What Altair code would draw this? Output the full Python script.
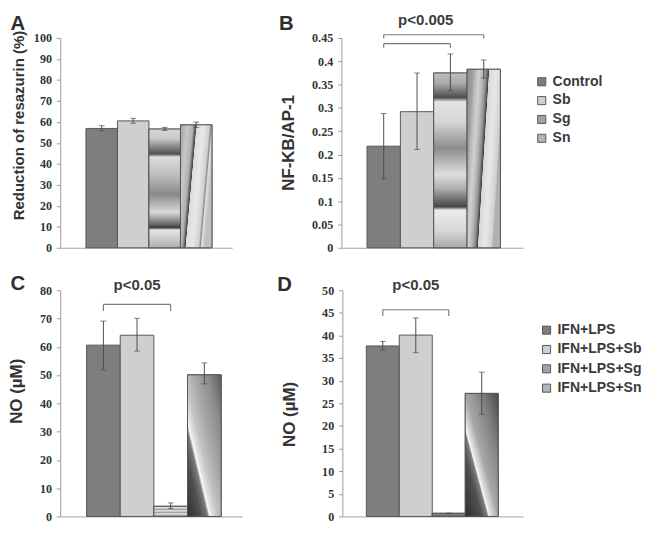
import altair as alt
import pandas as pd

# ---------------- data ----------------
top_groups = ["Control", "Sb", "Sg", "Sn"]
bottom_groups = ["IFN+LPS", "IFN+LPS+Sb", "IFN+LPS+Sg", "IFN+LPS+Sn"]

# A: reduction of resazurin (%)
a_mean = [56.9, 60.5, 56.6, 58.6]
a_lo = [55.8, 59.4, 55.9, 57.3]
a_hi = [58.2, 61.7, 57.4, 59.9]
a_ticks = [0, 10, 20, 30, 40, 50, 60, 70, 80, 90, 100]

# B: NF-KB/AP-1
b_mean = [0.218, 0.292, 0.375, 0.383]
b_lo = [0.148, 0.211, 0.337, 0.364]
b_hi = [0.288, 0.375, 0.416, 0.403]
b_ticks = [0, 0.05, 0.1, 0.15, 0.2, 0.25, 0.3, 0.35, 0.4, 0.45]

# C: NO (uM)
c_mean = [60.6, 64.1, 3.6, 50.1]
c_lo = [51.8, 58.5, 2.8, 46.9]
c_hi = [69.1, 70.1, 4.8, 54.3]
c_ticks = [0, 10, 20, 30, 40, 50, 60, 70, 80]

# D: NO (uM)
d_mean = [37.7, 40.1, 0.7, 27.2]
d_lo = [36.8, 36.2, 0.7, 22.6]
d_hi = [38.7, 43.9, 0.7, 31.9]
d_ticks = [0, 5, 10, 15, 20, 25, 30, 35, 40, 45, 50]

# significance brackets: (from, to, top level, foot level)
b_brackets = [("Control", "Sn", 0.457, 0.449), ("Control", "Sg", 0.438, 0.429)]
c_brackets = [("IFN+LPS", "IFN+LPS+Sg", 75.0, 72.7)]
d_brackets = [("IFN+LPS", "IFN+LPS+Sg", 45.7, 44.3)]

# p-value labels: (text, group, level)
b_plabel = ("p<0.005", "Sb", 0.478)
c_plabel = ("p<0.05", "IFN+LPS+Sb", 80.2)
d_plabel = ("p<0.05", "IFN+LPS+Sb", 50.1)

solid_colors = ["#7e7e7e", "#cfcfcf", "#a2a2a2", "#b4b4b4"]


# ---------------- styles ----------------
def grad(stops, x1=0, y1=0, x2=0, y2=1):
    return {"gradient": "linear", "x1": x1, "y1": y1, "x2": x2, "y2": y2,
            "stops": [{"offset": o, "color": c} for o, c in stops]}


sg_a = grad([(0, "#d8d8d8"), (0.08, "#c8c8c8"), (0.21, "#505050"), (0.235, "#dcdcdc"),
             (0.38, "#c0c0c0"), (0.55, "#8a8a8a"), (0.7, "#dadada"), (0.8, "#6a6a6a"),
             (0.83, "#3e3e3e"), (0.85, "#e6e6e6"), (1, "#b0b0b0")])
sg_b = grad([(0, "#c0c0c0"), (0.06, "#aaaaaa"), (0.14, "#4e4e4e"), (0.165, "#e4e4e4"),
             (0.28, "#d6d6d6"), (0.43, "#8c8c8c"), (0.58, "#dedede"), (0.66, "#b0b0b0"),
             (0.765, "#454545"), (0.785, "#ececec"), (0.9, "#d8d8d8"), (1, "#a8a8a8")])
sg_c = grad([(0, "#9a9a9a"), (0.15, "#ececec"), (0.3, "#9a9a9a"), (0.45, "#ececec"),
             (0.6, "#9a9a9a"), (0.75, "#ececec"), (0.9, "#9a9a9a"), (1, "#d0d0d0")])
sg_d = grad([(0, "#8a8a8a"), (1, "#6a6a6a")])

sn_a = grad([(0, "#a0a0a0"), (0.2, "#c8c8c8"), (0.35, "#b0b0b0"), (0.42, "#606060"),
             (0.445, "#404040"), (0.46, "#dcdcdc"), (0.65, "#e8e8e8"), (0.82, "#cfcfcf"),
             (0.87, "#8a8a8a"), (0.9, "#e0e0e0"), (1, "#c0c0c0")], 0, 0, 1, 0.35)
sn_b = grad([(0, "#909090"), (0.15, "#9c9c9c"), (0.24, "#bcbcbc"), (0.33, "#d0d0d0"),
             (0.42, "#b8b8b8"), (0.51, "#909090"), (0.565, "#5a5a5a"), (0.585, "#3e3e3e"),
             (0.6, "#d8d8d8"), (0.78, "#e8e8e8"), (0.96, "#d0d0d0"), (1, "#b0b0b0")], 0, 0, 1, 0.34)
sn_c = grad([(0, "#303030"), (0.2, "#505050"), (0.3, "#7a7a7a"), (0.322, "#c8c8c8"),
             (0.333, "#fafafa"), (0.36, "#e6e6e6"), (0.45, "#c4c4c4"), (0.6, "#a8a8a8"),
             (0.8, "#8c8c8c"), (1, "#5a5a5a")], 0, 1, 1, 0)
sn_d = grad([(0, "#2e2e2e"), (0.25, "#505050"), (0.34, "#808080"), (0.352, "#c8c8c8"),
             (0.362, "#f5f5f5"), (0.4, "#dcdcdc"), (0.5, "#a8a8a8"), (0.75, "#808080"),
             (1, "#4a4a4a")], 0, 1, 1, 0)

TXT = "#333333"
SANS = "Liberation Sans"
SERIF = "Liberation Serif"


def panel(cats, mean, lo, hi, ticks, fmt, ytitle, tx, ty, tsize,
          letter, lx, ly, w, h, po, al, sg_fill, sn_fill,
          legend=None, brackets=None, plabel=None, pband=0.5):
    df = pd.DataFrame({"cat": cats, "mean": mean, "lo": lo, "hi": hi})
    xs = alt.Scale(domain=cats, paddingInner=0, paddingOuter=po, align=al)
    x_bottom = alt.Axis(labels=False, ticks=False, title=None, domainColor="#a0a0a0",
                        grid=False)
    # panel letter drawn as the title of a bare top axis
    x_top = alt.Axis(orient="top", labels=False, ticks=False, domain=False, grid=False,
                     title=letter, titleX=lx, titleY=ly, titleAlign="left",
                     titleBaseline="alphabetic", titleAngle=0, titleFont=SANS,
                     titleFontSize=21, titleFontWeight="bold", titleColor="#2e2e2e")
    ys = alt.Scale(domain=[ticks[0], ticks[-1]], nice=False, zero=True)
    yax = alt.Axis(values=ticks, format=fmt, title=ytitle, titleX=tx, titleY=ty,
                   titleFontSize=tsize, titleAngle=-90, titleBaseline="alphabetic",
                   titleAlign="center")
    X = alt.X("cat:N", scale=xs, axis=x_bottom, sort=cats)
    Xn = alt.X("cat:N", scale=xs, axis=None, sort=cats)
    Xt = alt.X("cat:N", scale=xs, axis=x_top, sort=cats)
    Y = alt.Y("mean:Q", scale=ys, axis=yax)
    base = alt.Chart(df)
    bars = base.mark_bar(stroke="#555555", strokeWidth=1).encode(
        x=X, y=Y,
        color=alt.Color("cat:N", scale=alt.Scale(domain=cats, range=solid_colors),
                        legend=legend))
    sg = base.transform_filter(alt.datum.cat == cats[2]).mark_bar(
        fill=sg_fill, stroke="#555555", strokeWidth=1).encode(x=Xn, y=Y)
    sn = base.transform_filter(alt.datum.cat == cats[3]).mark_bar(
        fill=sn_fill, stroke="#555555", strokeWidth=1).encode(x=Xn, y=Y)
    err = base.mark_rule(color="#4a4a4a", strokeWidth=1).encode(
        x=Xt, y=alt.Y("lo:Q", scale=ys, axis=yax), y2="hi:Q")
    cap_lo = base.mark_tick(color="#4a4a4a", size=6, thickness=1).encode(
        x=Xn, y=alt.Y("lo:Q", scale=ys, axis=yax))
    cap_hi = base.mark_tick(color="#4a4a4a", size=6, thickness=1).encode(
        x=Xn, y=alt.Y("hi:Q", scale=ys, axis=yax))
    layers = [bars, sg, sn, err, cap_lo, cap_hi]
    if brackets:
        rows = []
        for c1, c2, top, foot in brackets:
            rows.append({"c1": c1, "c2": c2, "y1": top, "y2": top})
            rows.append({"c1": c1, "c2": c1, "y1": foot, "y2": top})
            rows.append({"c1": c2, "c2": c2, "y1": foot, "y2": top})
        bdf = pd.DataFrame(rows)
        layers.append(alt.Chart(bdf).mark_rule(color="#7a7a7a", strokeWidth=1.2).encode(
            x=alt.X("c1:N", scale=xs, axis=None, sort=cats), x2="c2:N",
            y=alt.Y("y1:Q", scale=ys, axis=yax), y2="y2:Q"))
    if plabel:
        tdf = pd.DataFrame({"label": [plabel[0]], "c": [plabel[1]], "y": [plabel[2]]})
        layers.append(alt.Chart(tdf).mark_text(
            font=SANS, fontSize=15.5, fontWeight="bold", color="#3c3c3c",
            baseline="alphabetic", align="center").encode(
            x=alt.X("c:N", scale=xs, axis=None, sort=cats, bandPosition=pband),
            y=alt.Y("y:Q", scale=ys, axis=yax), text="label:N"))
    return alt.layer(*layers).resolve_axis(x="independent").properties(width=w, height=h)


def make_legend(lx, ly, size, rowpad):
    return alt.Legend(orient="none", legendX=lx, legendY=ly, title=None,
                      symbolType="square", symbolSize=70, symbolStrokeColor="#555555",
                      symbolStrokeWidth=1, symbolOpacity=1,
                      labelFont=SANS, labelFontSize=size, labelFontWeight="bold",
                      labelColor="#3a3a3a", labelOffset=4, rowPadding=rowpad)


A = panel(top_groups, a_mean, a_lo, a_hi, a_ticks, "d", "Reduction of resazurin (%)",
          -38, 90, 15.5, "A", -52, -9, 178, 217, 0.73, 0.56, sg_a, sn_a)
B = panel(top_groups, b_mean, b_lo, b_hi, b_ticks, "~g", "NF-KB/AP-1",
          -50, 108, 17.5, "B", -65, -9, 188, 217, 0.724, 0.53, sg_b, sn_b,
          legend=make_legend(200, 38, 14.5, 4.5), brackets=b_brackets,
          plabel=b_plabel, pband=0.76)
C = panel(bottom_groups, c_mean, c_lo, c_hi, c_ticks, "d", "NO (µM)",
          -40, 104, 17.5, "C", -52, -0.5, 188, 234, 0.70, 0.56, sg_c, sn_c,
          brackets=c_brackets, plabel=c_plabel)
D = panel(bottom_groups, d_mean, d_lo, d_hi, d_ticks, "d", "NO (µM)",
          -50, 128, 17.5, "D", -68, 0.5, 187, 234, 0.74, 0.49, sg_d, sn_d,
          legend=make_legend(204, 34, 14.5, 5), brackets=d_brackets, plabel=d_plabel)

top = alt.hconcat(A, B, spacing=48).resolve_scale(
    color="independent").resolve_legend(color="independent")
bottom = alt.hconcat(C, D, spacing=36).resolve_scale(
    color="independent").resolve_legend(color="independent")

chart = alt.vconcat(top, bottom, spacing=19).resolve_scale(
    color="independent").resolve_legend(color="independent").properties(
    padding={"top": -4, "left": 0, "right": 0, "bottom": 0}, background="white"
).configure_view(stroke=None).configure_axis(
    domainColor="#9a9a9a", tickColor="#9a9a9a", tickSize=4, grid=False,
    labelFont=SERIF, labelFontWeight="bold", labelFontSize=12.5, labelColor=TXT,
    labelPadding=5, titleFont=SANS, titleFontWeight="bold", titleColor=TXT
)

chart.save("out.html", embed_options={"renderer": "svg", "actions": False})
